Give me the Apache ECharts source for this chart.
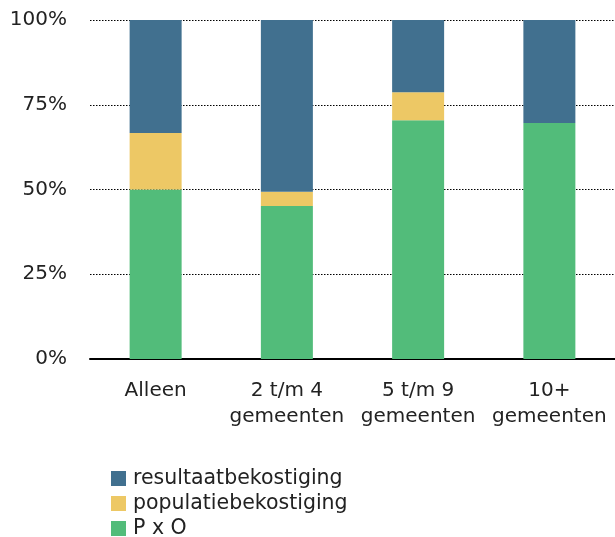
<!DOCTYPE html>
<html><head><meta charset="utf-8">
<script src="https://cdn.jsdelivr.net/npm/echarts@6/dist/echarts.min.js"></script>
<style>html,body{margin:0;padding:0;background:#fff}#c{width:615px;height:537px}</style>
</head><body><div id="c"></div>
<script>
const categories = ['Alleen', '2 t/m 4\ngemeenten', '5 t/m 9\ngemeenten', '10+\ngemeenten'];
const pxo = [50.0, 45.1, 70.4, 69.6];
const populatie = [16.7, 4.2, 8.3, 0];
const resultaat = [33.3, 50.7, 21.3, 30.4];
const yTicks = [0, 25, 50, 75, 100];

const FONT = 'DejaVu Sans';
const chart = echarts.init(document.getElementById('c'), null, {renderer: 'canvas'});
const mk = (name, data, color) => ({
  name, type: 'bar', stack: 'total', data, barWidth: 52,
  itemStyle: {color}, emphasis: {disabled: true}
});
chart.setOption({
  animation: false,
  textStyle: {fontFamily: FONT},
  grid: {left: 90, right: 0, top: 20, bottom: 178, containLabel: false},
  xAxis: {
    type: 'category', data: categories,
    axisLine: {lineStyle: {color: '#000', width: 2}},
    axisTick: {show: false},
    axisLabel: {color: '#222', fontSize: 20, fontFamily: FONT, margin: 19, lineHeight: 26, interval: 0}
  },
  yAxis: {
    type: 'value', min: yTicks[0], max: yTicks[yTicks.length - 1], interval: 25,
    axisLine: {show: false}, axisTick: {show: false},
    axisLabel: {color: '#222', fontSize: 20, fontFamily: FONT, margin: 23, formatter: v => v + '%'},
    splitLine: {lineStyle: {color: '#000', type: [1.5, 1.5], width: 1}}
  },
  legend: {
    orient: 'vertical', left: 111, top: 468, height: 90, itemWidth: 15, itemHeight: 15, itemGap: 4,
    icon: 'rect', padding: 0,
    data: ['resultaatbekostiging', 'populatiebekostiging', 'P x O'],
    textStyle: {color: '#222', fontSize: 20.5, lineHeight: 21, fontFamily: FONT, padding: [0, 0, 0, 2]}
  },
  series: [
    mk('P x O', pxo, '#52BC7A'),
    mk('populatiebekostiging', populatie, '#EDC865'),
    mk('resultaatbekostiging', resultaat, '#41708F')
  ]
});
</script></body></html>
